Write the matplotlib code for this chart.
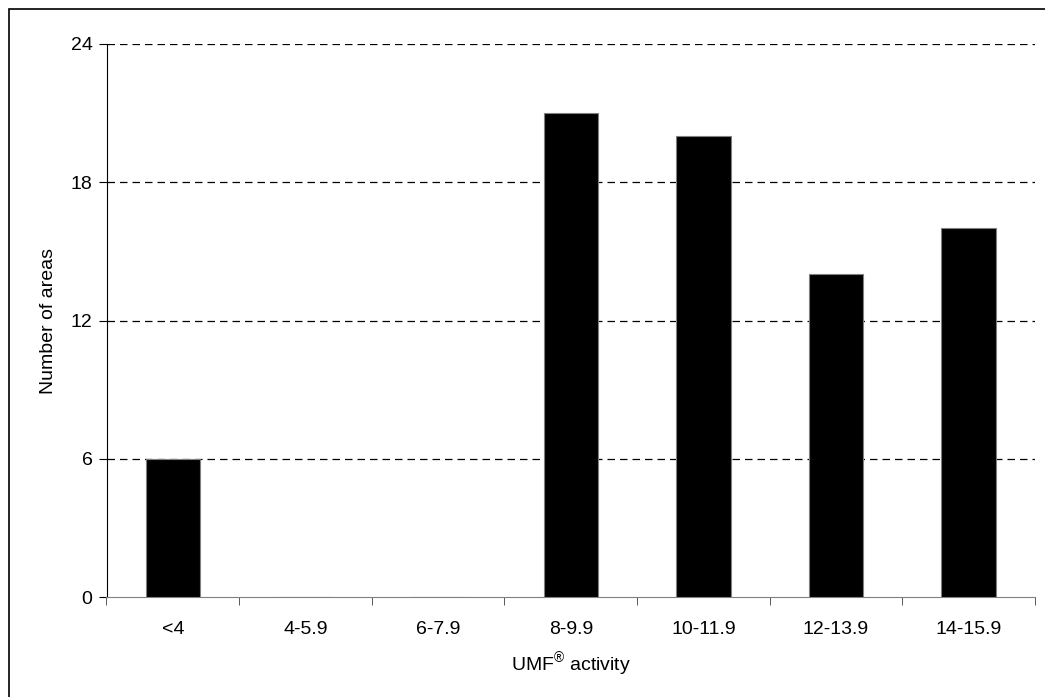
import matplotlib.pyplot as plt
from matplotlib.patches import Rectangle

# bin labels and counts
categories = ["<4", "4-5.9", "6-7.9", "8-9.9", "10-11.9", "12-13.9", "14-15.9"]
counts = [6, 0, 0, 21, 20, 14, 16]
y_ticks = [0, 6, 12, 18, 24]

plt.rcParams['font.family'] = ['Liberation Sans', 'DejaVu Sans']
plt.rcParams['font.size'] = 14

fig = plt.figure(figsize=(10.45, 6.97), dpi=100)
W, H = 1045, 697
ax = fig.add_axes([106.5 / W, 1 - 597 / H, (1035 - 106.5) / W, (597 - 44) / H])

# outer frame (right/bottom edges fall outside the image)
fig.patches.append(Rectangle((9 / W, -0.1), 1.2, 1 - 9 / H + 0.1, transform=fig.transFigure,
                             fill=False, edgecolor='black', linewidth=1.2))

x = range(len(categories))
ax.bar(x, counts, width=0.41, color='black', edgecolor='#808080', linewidth=0.8, zorder=3)

ax.set_xlim(-0.5, len(categories) - 0.5)
ax.set_ylim(0, 24)
ax.set_yticks(y_ticks)
ax.set_xticks(x)
ax.set_xticklabels(categories)
ax.set_xticks([i - 0.5 for i in range(len(categories) + 1)], minor=True)
ax.tick_params(axis='x', which='major', length=0, pad=17)
ax.tick_params(axis='x', which='minor', length=6, direction='out', color='#404040')
ax.tick_params(axis='y', length=6, direction='out', pad=4)

for yv in y_ticks[1:]:
    ax.axhline(yv, color='black', linestyle=(0, (6, 4)), linewidth=0.9, zorder=1)

for side in ['top', 'right']:
    ax.spines[side].set_visible(False)
ax.spines['bottom'].set_color('#808080')
ax.spines['left'].set_color('black')

ax.set_xlabel(r"UMF$^{\mathregular{®}}$ activity", labelpad=9)
ax.set_ylabel("Number of areas", labelpad=10)

fig.savefig("out.png", dpi=100)
